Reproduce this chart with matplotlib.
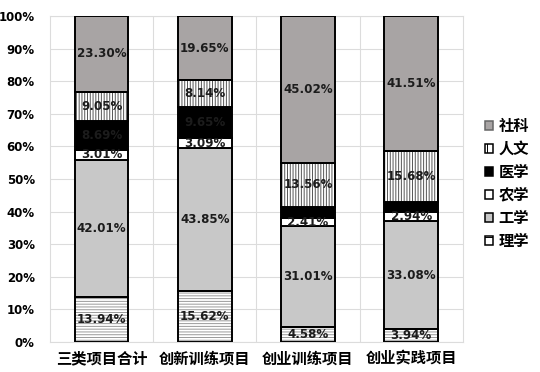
import matplotlib
matplotlib.use("Agg")
import matplotlib.pyplot as plt
from matplotlib.patches import Patch
import numpy as np

plt.rcParams['font.family'] = ['Noto Sans CJK SC', 'DejaVu Sans']
plt.rcParams['hatch.linewidth'] = 0.7

categories = ['三类项目合计', '创新训练项目', '创业训练项目', '创业实践项目']
series_names = ['理学', '工学', '农学', '医学', '人文', '社科']
lixue = [13.94, 15.62, 4.58, 3.94]
gongxue = [42.01, 43.85, 31.01, 33.08]
nongxue = [3.01, 3.09, 2.41, 2.94]
yixue = [8.69, 9.65, 3.42, 2.85]
renwen = [9.05, 8.14, 13.56, 15.68]
sheke = [23.30, 19.65, 45.02, 41.51]
yticks = [0, 10, 20, 30, 40, 50, 60, 70, 80, 90, 100]
ytick_labels = [f'{v}%' for v in yticks]

series = [lixue, gongxue, nongxue, yixue, renwen, sheke]
# style: facecolor, hatch, hatch colour
styles = [
    ('white', '------', '#999999'),
    ('#c8c8c8', '', None),
    ('white', '', None),
    ('black', '', None),
    ('white', '||||||', '#555555'),
    ('#a8a4a4', '', None),
]
show_label = [
    [True, True, True, True],
    [True, True, True, True],
    [True, True, True, True],
    [True, True, False, False],
    [True, True, True, True],
    [True, True, True, True],
]

fig = plt.figure(figsize=(5.4, 3.72), dpi=100)
ax = fig.add_axes([0.0926, 0.0806, 0.857 - 0.0926, 0.957 - 0.0806])

x = np.arange(len(categories))
width = 0.52
bottom = np.zeros(len(categories))
for vals, (fc, hatch, hc), shows in zip(series, styles, show_label):
    vals = np.array(vals)
    if hatch:
        ax.bar(x, vals, width, bottom=bottom, color=fc, hatch=hatch,
               edgecolor=hc, linewidth=0, zorder=3)
        ax.bar(x, vals, width, bottom=bottom, fill=False,
               edgecolor='black', linewidth=1.4, zorder=4)
    else:
        ax.bar(x, vals, width, bottom=bottom, color=fc,
               edgecolor='black', linewidth=1.4, zorder=3)
    for i, v in enumerate(vals):
        if shows[i]:
            ax.text(x[i], bottom[i] + v / 2, f'{v:.2f}%', ha='center', va='center',
                    fontsize=8.6, fontweight='bold', color='#1c1c1c', zorder=5,
                    family=['DejaVu Sans'])
    bottom += vals

ax.set_xlim(-0.5, len(categories) - 0.5)
ax.set_ylim(0, 100)
ax.set_yticks(yticks)
ax.set_yticklabels(ytick_labels, fontsize=8.5, fontweight='bold', family=['DejaVu Sans'])
ax.set_xticks(x)
ax.set_xticklabels(categories, fontsize=11, fontweight='bold')
ax.set_xticks(np.arange(len(categories) - 1) + 0.5, minor=True)
ax.tick_params(axis='both', which='both', length=0)
ax.tick_params(axis='x', pad=6)
ax.tick_params(axis='y', pad=11)
ax.grid(True, axis='y', color='#dcdcdc', linewidth=0.8, zorder=0)
ax.grid(True, axis='x', which='minor', color='#dcdcdc', linewidth=0.8, zorder=0)
for s in ax.spines.values():
    s.set_color('#dcdcdc')
    s.set_linewidth(0.8)

handles = []
for (fc, hatch, hc), name in zip(styles, series_names):
    if hatch:
        handles.append(Patch(facecolor=fc, hatch=hatch[:2], edgecolor='black', linewidth=1.1, label=name))
    else:
        handles.append(Patch(facecolor=fc, edgecolor='black' if fc != '#a8a4a4' else '#666666',
                             linewidth=1.1, label=name))
handles = handles[::-1]
leg = fig.legend(handles=handles, loc='center left', bbox_to_anchor=(0.872, 0.507),
                 frameon=False, handlelength=0.55, handleheight=0.55, handletextpad=0.35,
                 labelspacing=0.45, prop={'family': 'Noto Sans CJK SC', 'size': 11, 'weight': 'bold'})

fig.savefig('out.png', dpi=100)
